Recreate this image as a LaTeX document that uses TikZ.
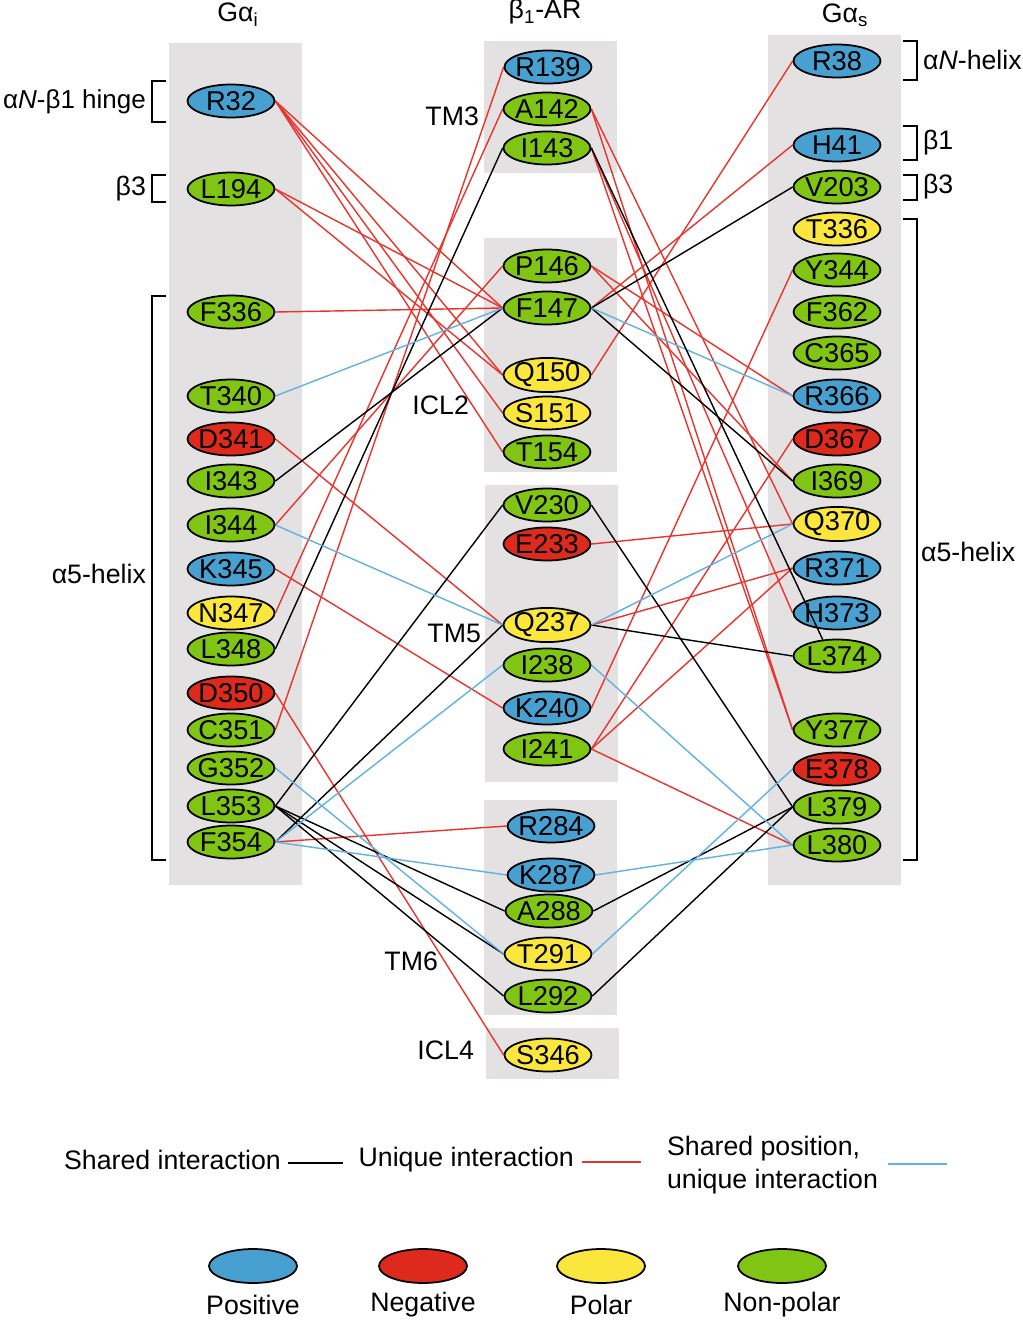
\documentclass[tikz,border=0pt]{standalone}
\usepackage{fontspec}
\setmainfont{Liberation Sans}
\usetikzlibrary{shapes.geometric}

\definecolor{posblue}{RGB}{72,160,208}
\definecolor{negred}{RGB}{222,42,28}
\definecolor{polyellow}{RGB}{250,230,60}
\definecolor{npgreen}{RGB}{128,196,20}
\definecolor{boxgrey}{RGB}{227,225,226}
\definecolor{linkred}{RGB}{232,52,44}
\definecolor{linkblue}{RGB}{96,178,226}

\pgfdeclarelayer{boxes}
\pgfdeclarelayer{links}
\pgfsetlayers{boxes,links,main}

\tikzset{
  res/.style={ellipse, draw=black, line width=1pt, minimum width=1.74cm,
              minimum height=0.66cm, inner sep=0pt, font=\fontsize{15.5}{16}\selectfont},
  posres/.style={res, fill=posblue},
  negres/.style={res, fill=negred},
  polres/.style={res, fill=polyellow},
  nonpolres/.style={res, fill=npgreen},
  legres/.style={ellipse, draw=black, line width=1pt, minimum width=1.76cm,
                 minimum height=0.68cm, inner sep=0pt},
  region/.style={fill=boxgrey},
  lbl/.style={font=\fontsize{15.2}{19}\selectfont, inner sep=1pt},
  bracketline/.style={black, line width=0.7pt},
  shared/.style={black, line width=0.8pt},
  unique/.style={linkred, line width=0.8pt},
  sharedpos/.style={linkblue, line width=0.8pt}
}

\begin{document}
\begin{tikzpicture}[x=0.02cm, y=-0.02cm]
  \useasboundingbox (0,0) rectangle (1022,1321);
  % Grey regions
  \begin{pgfonlayer}{boxes}
    \fill[region] (169,43) rectangle (302,885);
    \fill[region] (484,41) rectangle (617,173);
    \fill[region] (484,238) rectangle (617,472);
    \fill[region] (485,485) rectangle (618,782);
    \fill[region] (484,800) rectangle (617,1015);
    \fill[region] (486,1028) rectangle (619,1079);
    \fill[region] (768,35) rectangle (901,885);
  \end{pgfonlayer}
  % Column titles
  \node[lbl] (gi) at (238,15) {Gα\textsubscript{i}};
  \node[lbl] (b1ar) at (545,12) {β\textsubscript{1}-AR};
  \node[lbl] (gs) at (845,15) {Gα\textsubscript{s}};
  % G alpha i residues
  \foreach \name/\y/\kind in {R32/101/posres, L194/189/nonpolres, F336/312/nonpolres,
      T340/396/nonpolres, D341/439/negres, I343/481/nonpolres, I344/525/nonpolres,
      K345/569/posres, N347/613/polres, L348/649/nonpolres, D350/693/negres,
      C351/730/nonpolres, G352/768/nonpolres, L353/806/nonpolres, F354/842/nonpolres}
    \node[\kind] (\name) at (231,\y) {\makebox[0pt]{\name}};
  % beta1-AR residues
  \foreach \name/\x/\y/\kind in {R139/548/67/posres, A142/547/109/nonpolres,
      I143/547/148/nonpolres, P146/547/266/nonpolres, F147/547/308/nonpolres,
      Q150/547/375/polres, S151/547/413/polres, T154/547/452/nonpolres,
      V230/547/505/nonpolres, E233/547/544/negres, Q237/547/625/polres,
      I238/547/665/nonpolres, K240/547/708/posres, I241/547/749/nonpolres,
      R284/551/826/posres, K287/551/875/posres, A288/549/911/nonpolres,
      T291/548/954/polres, L292/548/996/nonpolres, S346/548/1055/polres}
    \node[\kind] (\name) at (\x,\y) {\makebox[0pt]{\name}};
  % G alpha s residues
  \foreach \name/\y/\kind in {R38/61/posres, H41/145/posres, V203/187/nonpolres,
      T336/229/polres, Y344/270/nonpolres, F362/312/nonpolres, C365/353/nonpolres,
      R366/396/posres, D367/439/negres, I369/481/nonpolres, Q370/524/polres,
      R371/568/posres, H373/613/posres, L374/656/nonpolres, Y377/730/nonpolres,
      E378/769/negres, L379/807/nonpolres, L380/845/nonpolres}
    \node[\kind] (\name) at (837,\y) {\makebox[0pt]{\name}};
  % Segment labels
  \node[lbl, anchor=east] (tm3) at (481,116) {TM3};
  \node[lbl, anchor=east] (icl2) at (471,405) {ICL2};
  \node[lbl, anchor=east] (tm5) at (483,633) {TM5};
  \node[lbl, anchor=east] (tm6) at (440,961) {TM6};
  \node[lbl, anchor=east] (icl4) at (476,1050) {ICL4};
  % Left brackets
  \draw[bracketline] (166,81) -- (152,81) -- (152,122) -- (166,122);
  \draw[bracketline] (166,175) -- (152,175) -- (152,202) -- (166,202);
  \draw[bracketline] (166,296) -- (152,296) -- (152,860) -- (166,860);
  \node[lbl, anchor=east, font=\fontsize{14.8}{19}\selectfont] (hinge) at (148,102) {α\textit{N}-β1 hinge};
  \node[lbl, anchor=east] (ib3) at (148,189) {β3};
  \node[lbl, anchor=east] (ia5) at (148,574) {α5-helix};
  % Right brackets
  \draw[bracketline] (903,41) -- (917,41) -- (917,80) -- (903,80);
  \draw[bracketline] (903,126) -- (917,126) -- (917,160) -- (903,160);
  \draw[bracketline] (903,175) -- (917,175) -- (917,200) -- (903,200);
  \draw[bracketline] (903,219) -- (917,219) -- (917,860) -- (903,860);
  \node[lbl, anchor=west] (anh) at (921,60) {α\textit{N}-helix};
  \node[lbl, anchor=west] (sb1) at (921,143) {β1};
  \node[lbl, anchor=west] (sb3) at (921,187) {β3};
  \node[lbl, anchor=west] (sa5) at (919,552) {α5-helix};
  % Interactions
  \begin{pgfonlayer}{links}
    \foreach \a/\b in {R32/F147, R32/Q150, R32/S151, R32/T154, L194/F147, L194/Q150,
        F336/F147, D341/Q237, I344/P146, K345/K240, N347/A142, D350/S346,
        C351/R139, F354/R284, Q150/R38, F147/H41, P146/R366, P146/I369,
        A142/Q370, A142/Y377, I143/H373, I143/Y377, E233/Q370, Q237/R371,
        K240/Y344, I241/D367, I241/R371, I241/L380}
      \draw[unique] (\a.east) -- (\b.west);
    \foreach \a/\b in {I343/F147, L348/I143, L353/V230, F354/Q237, L353/A288,
        L353/T291, L353/L292, F147/V203, F147/I369, Q237/L374, V230/L379,
        A288/L379, L292/L379}
      \draw[shared] (\a.east) -- (\b.west);
    \foreach \a/\b in {T340/F147, I344/Q237, G352/T291, F354/I238, F354/K287,
        F147/R366, Q237/Q370, I238/L380, K287/L380, T291/E378}
      \draw[sharedpos] (\a.east) -- (\b.west);
  \end{pgfonlayer}
  % this one runs over H373
  \draw[shared] (I143.east) -- (L374.131);
  % Legend
  \node[lbl, anchor=east] (lgshared) at (283,1160) {Shared interaction};
  \coordinate (lgs1) at (288,1163);
  \coordinate (lgs2) at (343,1163);
  \draw[shared] (lgs1) -- (lgs2);
  \node[lbl, anchor=east] (lgunique) at (576,1160) {Unique interaction};
  \coordinate (lgu1) at (582,1162);
  \coordinate (lgu2) at (641,1162);
  \draw[unique] (lgu1) -- (lgu2);
  \node[lbl, anchor=west, align=left] (lgpos) at (665,1165) {Shared position,\\unique interaction};
  \coordinate (lgp1) at (888,1164);
  \coordinate (lgp2) at (947,1164);
  \draw[sharedpos] (lgp1) -- (lgp2);
  \foreach \x/\col/\txt/\id in {253/posblue/Positive/kp, 423/negred/Negative/kn,
      601/polyellow/Polar/ky, 782/npgreen/Non-polar/kg} {
    \node[legres, fill=\col] (\id) at (\x,1266) {};
    \node[lbl] (\id txt) at (\x,1305) {\txt};
  }
\end{tikzpicture}
\end{document}
